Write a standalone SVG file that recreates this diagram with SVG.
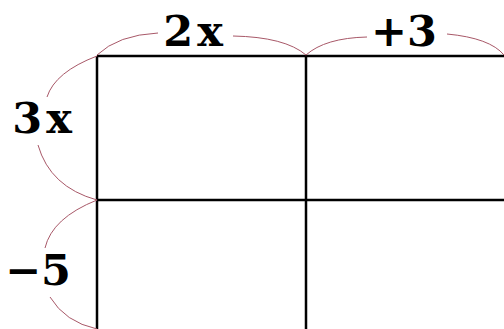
<svg xmlns="http://www.w3.org/2000/svg" width="504" height="329" viewBox="0 0 504 329">
<style>
.grid{stroke:#000;stroke-width:2.5;fill:none}
.brace{stroke:#a85868;stroke-width:1;fill:none}
.lbl{font-family:"DejaVu Serif",serif;font-weight:bold;font-size:43px;fill:#000;text-anchor:middle}
.sp{letter-spacing:4px}
</style>
<rect width="504" height="329" fill="#fff"/>
<g id="grid">
<line class="grid" x1="97" y1="56" x2="504" y2="56"/>
<line class="grid" x1="97" y1="200" x2="504" y2="200"/>
<line class="grid" x1="97" y1="56" x2="97" y2="329"/>
<line class="grid" x1="306" y1="56" x2="306" y2="329"/>
</g>
<g id="connectors">
<path class="brace" d="M97,55 Q118,35 158,33"/>
<path class="brace" d="M233,36 Q285,37 306,55"/>
<path class="brace" d="M306,55 Q325,38 367,37"/>
<path class="brace" d="M447,34 Q490,38 504,55"/>
<path class="brace" d="M97,56 Q55,72 47,97"/>
<path class="brace" d="M38,145 Q50,187 97,200"/>
<path class="brace" d="M97,200 Q52,218 45,248"/>
<path class="brace" d="M50,297 Q65,322 97,329"/>
</g>
<g id="label-2x"><text class="lbl sp" x="195" y="46">2x</text></g>
<g id="label-plus3"><text class="lbl" x="404" y="46">+3</text></g>
<g id="label-3x"><text class="lbl sp" x="44" y="133">3x</text></g>
<g id="label-minus5"><text class="lbl" x="38" y="285">−5</text></g>
</svg>
